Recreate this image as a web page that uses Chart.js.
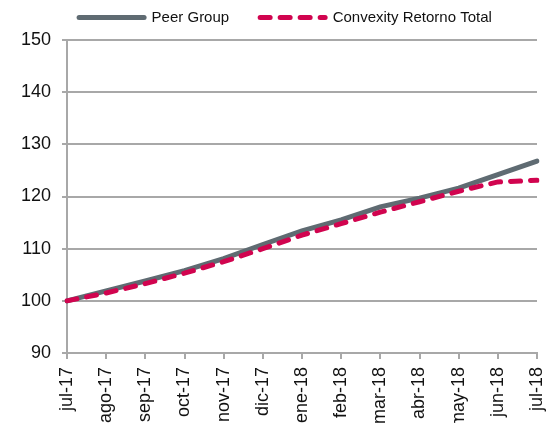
<!DOCTYPE html>
<html>
<head>
<meta charset="utf-8">
<script src="https://cdn.jsdelivr.net/npm/chart.js@4"></script>
<style>
  html, body { margin: 0; padding: 0; background: #fff; }
  #wrap { width: 556px; height: 423px; }
</style>
</head>
<body>
<div id="wrap"><canvas id="chart" width="556" height="423"></canvas></div>
<script>
// months shown on the x axis
const months = ["jul-17", "ago-17", "sep-17", "oct-17", "nov-17", "dic-17", "ene-18",
  "feb-18", "mar-18", "abr-18", "may-18", "jun-18", "jul-18"];

// index values (base 100)
const peerGroup = [100, 101.9, 103.8, 105.8, 108.1, 110.8, 113.4, 115.5, 118.0, 119.7, 121.6, 124.2, 126.8];
const convexity = [100, 101.5, 103.3, 105.3, 107.5, 110.0, 112.6, 114.8, 117.0, 119.0, 121.0, 122.8, 123.1];

const yMin = 90, yMax = 150, yStep = 10;

const FONT = "'Liberation Sans', Arial, sans-serif";
const GRID = "#a8a8a8";

// legend entries drawn as line samples, dashed where the series is dashed
function legendItems(chart) {
  return chart.data.datasets.map((ds, i) => ({
    text: ds.label,
    datasetIndex: i,
    pointStyle: "line",
    strokeStyle: ds.borderColor,
    fillStyle: ds.borderColor,
    lineWidth: ds.borderWidth,
    lineDash: ds.borderDash || [],
    lineCap: "round",
    fontColor: "#111",
    hidden: !chart.isDatasetVisible(i),
  }));
}

// legend sits a bit higher above the plot than Chart.js puts it
const legendNudge = {
  id: "legendNudge",
  afterLayout(chart) {
    chart.legend.top -= 5;
    chart.legend.bottom -= 5;
  },
};

new Chart(document.getElementById("chart"), {
  type: "line",
  data: {
    labels: months,
    datasets: [
      {
        label: "Peer Group",
        data: peerGroup,
        borderColor: "#5f6b72",
        backgroundColor: "#5f6b72",
        borderWidth: 5,
        borderCapStyle: "round",
        pointRadius: 0,
        tension: 0,
        order: 1,
      },
      {
        label: "Convexity Retorno Total",
        data: convexity,
        borderColor: "#d1044f",
        backgroundColor: "#d1044f",
        borderWidth: 5,
        borderDash: [10, 10],
        borderCapStyle: "round",
        pointRadius: 0,
        tension: 0,
        order: 0,
      },
    ],
  },
  plugins: [legendNudge],
  options: {
    responsive: false,
    animation: false,
    layout: { padding: { top: -25, left: 15, right: 0, bottom: 0 } },
    plugins: {
      tooltip: { enabled: false },
      legend: {
        position: "top",
        labels: {
          usePointStyle: true,
          pointStyle: "line",
          pointStyleWidth: 65,
          padding: 31,
          color: "#111",
          font: { family: FONT, size: 15 },
          generateLabels: legendItems,
        },
      },
    },
    scales: {
      x: {
        grid: { drawOnChartArea: false, drawTicks: true, tickLength: 6, color: GRID, lineWidth: 2 },
        border: { display: true, color: GRID, width: 2 },
        ticks: {
          minRotation: 90, maxRotation: 90, autoSkip: false, padding: 8,
          color: "#111", font: { family: FONT, size: 18 },
        },
        afterFit: (s) => { s.height = 70; s.paddingLeft = 0; s.paddingRight = 19; },
      },
      y: {
        min: yMin, max: yMax,
        grid: { color: GRID, lineWidth: 2, tickLength: 5 },
        border: { display: true, color: GRID, width: 2 },
        ticks: {
          stepSize: yStep, padding: 11,
          color: "#111", font: { family: FONT, size: 18 },
        },
        afterFit: (s) => { s.width = 52; s.paddingTop = 40; },
      },
    },
  },
});
</script>
</body>
</html>
